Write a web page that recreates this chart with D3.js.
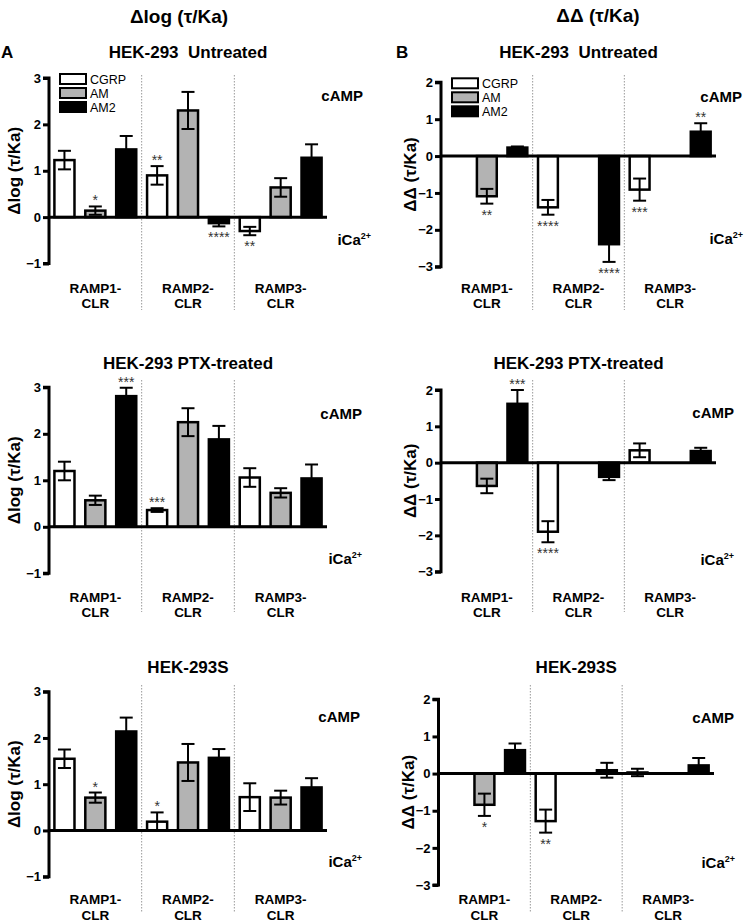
<!DOCTYPE html>
<html><head><meta charset="utf-8">
<script src="https://cdn.jsdelivr.net/npm/d3@7"></script>
<style>
body{margin:0;background:#fff}
text{font-family:"Liberation Sans",Arial,Helvetica,sans-serif;white-space:pre}
</style>
</head><body>
<svg id="chart" width="745" height="921"></svg>
<script>
// ---------------- DATA ----------------
const ligands = ["CGRP", "AM", "AM2"];
const receptors = [["RAMP1-", "CLR"], ["RAMP2-", "CLR"], ["RAMP3-", "CLR"]];
const ligandFill = ["#ffffff", "#b3b3b3", "#000000"];
const logTicks = [-1, 0, 1, 2, 3];
const ddTicks = [-3, -2, -1, 0, 1, 2];
const columnHeaders = ["Δlog (τ/Ka)", "ΔΔ (τ/Ka)"];
const rowTitles = ["HEK-293  Untreated", "HEK-293 PTX-treated", "HEK-293S"];

// order: RAMP1 (CGRP, AM, AM2), RAMP2 (CGRP, AM, AM2), RAMP3 (CGRP, AM, AM2)
const untreatedLogMean = [1.23, 0.14, 1.46, 0.90, 2.30, -0.13, -0.30, 0.64, 1.28];
const untreatedLogSem  = [0.20, 0.09, 0.29, 0.20, 0.40, 0.07, 0.09, 0.20, 0.29];
const untreatedLogSig  = ["", "*", "", "**", "", "****", "**", "", ""];

const untreatedDDMean = [null, -1.09, 0.23, -1.39, null, -2.39, -0.91, null, 0.66];
const untreatedDDSem  = [null, 0.20, 0.03, 0.20, null, 0.48, 0.30, null, 0.23];
const untreatedDDSig  = ["", "**", "", "****", "", "****", "***", "", "**"];

const ptxLogMean = [1.20, 0.57, 2.81, 0.36, 2.25, 1.88, 1.06, 0.73, 1.04];
const ptxLogSem  = [0.20, 0.10, 0.18, 0.04, 0.30, 0.29, 0.20, 0.10, 0.30];
const ptxLogSig  = ["", "", "***", "***", "", "", "", "", ""];

const ptxDDMean = [null, -0.64, 1.62, -1.90, null, -0.39, 0.34, null, 0.32];
const ptxDDSem  = [null, 0.20, 0.38, 0.29, null, 0.09, 0.19, null, 0.09];
const ptxDDSig  = ["", "", "***", "****", "", "", "", "", ""];

const s293LogMean = [1.55, 0.71, 2.14, 0.19, 1.47, 1.57, 0.72, 0.71, 0.93];
const s293LogSem  = [0.20, 0.11, 0.30, 0.20, 0.40, 0.19, 0.30, 0.15, 0.20];
const s293LogSig  = ["", "*", "", "*", "", "", "", "", ""];

const s293DDMean = [null, -0.84, 0.63, -1.28, null, 0.09, 0.03, null, 0.22];
const s293DDSem  = [null, 0.30, 0.18, 0.31, null, 0.20, 0.10, null, 0.20];
const s293DDSig  = ["", "*", "", "**", "", "", "", "", ""];

// ---------------- LAYOUT ----------------
const svg = d3.select("#chart");
svg.append("rect").attr("width", 745).attr("height", 921).attr("fill", "#fff");

const panels = [
  {col:0, row:0, mean:untreatedLogMean, sem:untreatedLogSem, sig:untreatedLogSig, x0:49, x1:327, top:78, bottom:263.5, legend:true,
   camp:[363,101], ica:[371,245]},
  {col:1, row:0, mean:untreatedDDMean, sem:untreatedDDSem, sig:untreatedDDSig, x0:441, x1:716, top:82.3, bottom:266.7, legend:true,
   camp:[742,102], ica:[743,244]},
  {col:0, row:1, mean:ptxLogMean, sem:ptxLogSem, sig:ptxLogSig, x0:49, x1:327, top:387.3, bottom:573.3, legend:false,
   camp:[362,419], ica:[362,564]},
  {col:1, row:1, mean:ptxDDMean, sem:ptxDDSem, sig:ptxDDSig, x0:441, x1:716, top:390, bottom:571.7, legend:false,
   camp:[734,418], ica:[734,565]},
  {col:0, row:2, mean:s293LogMean, sem:s293LogSem, sig:s293LogSig, x0:49, x1:327, top:691.7, bottom:876.7, legend:false,
   camp:[360,722], ica:[362,867]},
  {col:1, row:2, mean:s293DDMean, sem:s293DDSem, sig:s293DDSig, x0:438.5, x1:714, top:699.3, bottom:885, legend:false,
   camp:[734,723], ica:[735,868]}
];
const rowTitleY = [58, 369, 673];
const sepRange = [[75, 310], [380, 612], [685, 912]];
const catLabelY = [292.5, 601.5, 904];

// column headers
svg.append("text").attr("x", 179).attr("y", 23).attr("text-anchor", "middle")
  .attr("font-size", 19).attr("font-weight", "bold").text(columnHeaders[0]);
svg.append("text").attr("x", 598).attr("y", 22).attr("text-anchor", "middle")
  .attr("font-size", 19).attr("font-weight", "bold").text(columnHeaders[1]);
// A / B letters
svg.append("text").attr("x", 1).attr("y", 58).attr("font-size", 17).attr("font-weight", "bold").text("A");
svg.append("text").attr("x", 396).attr("y", 58).attr("font-size", 17).attr("font-weight", "bold").text("B");

const keys = d3.range(9);

panels.forEach(p => {
  const g = svg.append("g");
  const domain = p.col === 0 ? [-1, 3] : [-3, 2];
  const ticks = p.col === 0 ? logTicks : ddTicks;
  const y = d3.scaleLinear().domain(domain).range([p.bottom, p.top]);
  const x = d3.scaleBand().domain(keys).range([p.x0, p.x1]).paddingInner(0.35).paddingOuter(0.175);
  const step = x.step();

  // title
  g.append("text").attr("x", (p.x0 + p.x1) / 2).attr("y", rowTitleY[p.row])
    .attr("text-anchor", "middle").attr("font-size", 17).attr("font-weight", "bold")
    .attr("xml:space", "preserve").text(rowTitles[p.row]);

  // dotted separators
  [3, 6].forEach(i => {
    const sx = x(i) - step * 0.35 / 2;
    g.append("line").attr("x1", sx).attr("x2", sx)
      .attr("y1", sepRange[p.row][0]).attr("y2", sepRange[p.row][1])
      .attr("stroke", "#999").attr("stroke-width", 1).attr("stroke-dasharray", "1.5,1.5");
  });

  // bars
  const data = keys.map(i => ({i, lig: i % 3, m: p.mean[i], s: p.sem[i], sig: p.sig[i]})).filter(d => d.m !== null);
  g.selectAll("rect.bar").data(data).enter().append("rect")
    .attr("x", d => x(d.i)).attr("width", x.bandwidth())
    .attr("y", d => y(Math.max(0, d.m))).attr("height", d => Math.abs(y(d.m) - y(0)))
    .attr("fill", d => ligandFill[d.lig]).attr("stroke", "#000").attr("stroke-width", 2.5);

  // error bars
  const capHalf = 6.5;
  data.forEach(d => {
    const cx = x(d.i) + x.bandwidth() / 2;
    const hi = y(d.m + d.s), lo = y(d.m - d.s);
    g.append("line").attr("x1", cx).attr("x2", cx).attr("y1", hi).attr("y2", lo).attr("stroke", "#000").attr("stroke-width", 2);
    [hi, lo].forEach(yy => g.append("line").attr("x1", cx - capHalf).attr("x2", cx + capHalf)
      .attr("y1", yy).attr("y2", yy).attr("stroke", "#000").attr("stroke-width", 2));
    if (d.sig) {
      const ty = d.m >= 0 ? hi - 1 : lo + 16;
      g.append("text").attr("x", cx).attr("y", ty).attr("text-anchor", "middle")
        .attr("font-size", 14).attr("fill", "#333").text(d.sig);
    }
  });

  // zero line
  g.append("line").attr("x1", p.x0).attr("x2", p.x1).attr("y1", y(0)).attr("y2", y(0))
    .attr("stroke", "#000").attr("stroke-width", 3);

  // y axis
  const ax = g.append("g").attr("transform", `translate(${p.x0},0)`)
    .call(d3.axisLeft(y).tickValues(ticks).tickFormat(d3.format("d")).tickSize(6).tickPadding(2));
  ax.select(".domain").attr("stroke-width", 3).attr("d", `M-6,${p.top}H0V${p.bottom}H-6`);
  ax.selectAll(".tick line").attr("stroke-width", 3);
  ax.selectAll(".tick text").attr("font-size", 13).attr("font-weight", "bold")
    .attr("font-family", '"Liberation Sans",Arial,sans-serif').attr("fill", "#000");

  // y title
  const tx = p.col === 0 ? 20 : p.x0 - 25;
  g.append("text").attr("transform", `translate(${tx},${(p.top + p.bottom) / 2}) rotate(-90)`)
    .attr("text-anchor", "middle").attr("font-size", 17).attr("font-weight", "bold")
    .text(columnHeaders[p.col]);

  // category labels
  receptors.forEach((r, k) => {
    const cx = x(k * 3 + 1) + x.bandwidth() / 2;
    r.forEach((line, j) => g.append("text").attr("x", cx).attr("y", catLabelY[p.row] + j * 15.5)
      .attr("text-anchor", "middle").attr("font-size", 13.5).attr("font-weight", "bold").text(line));
  });

  // cAMP / iCa2+
  g.append("text").attr("x", p.camp[0]).attr("y", p.camp[1]).attr("text-anchor", "end")
    .attr("font-size", 15).attr("font-weight", "bold").text("cAMP");
  const ic = g.append("text").attr("x", p.ica[0]).attr("y", p.ica[1]).attr("text-anchor", "end")
    .attr("font-size", 15).attr("font-weight", "bold");
  ic.append("tspan").text("iCa");
  ic.append("tspan").attr("font-size", 9).attr("dy", -6).text("2+");

  // legend
  if (p.legend) {
    ligands.forEach((l, k) => {
      const ly = p.top - 4 + k * 14;
      g.append("rect").attr("x", p.x0 + 11).attr("y", ly).attr("width", 26).attr("height", 10)
        .attr("fill", ligandFill[k]).attr("stroke", "#000").attr("stroke-width", 2);
      g.append("text").attr("x", p.x0 + 41).attr("y", ly + 10).attr("font-size", 12.5).text(l);
    });
  }
});
</script>
</body></html>
